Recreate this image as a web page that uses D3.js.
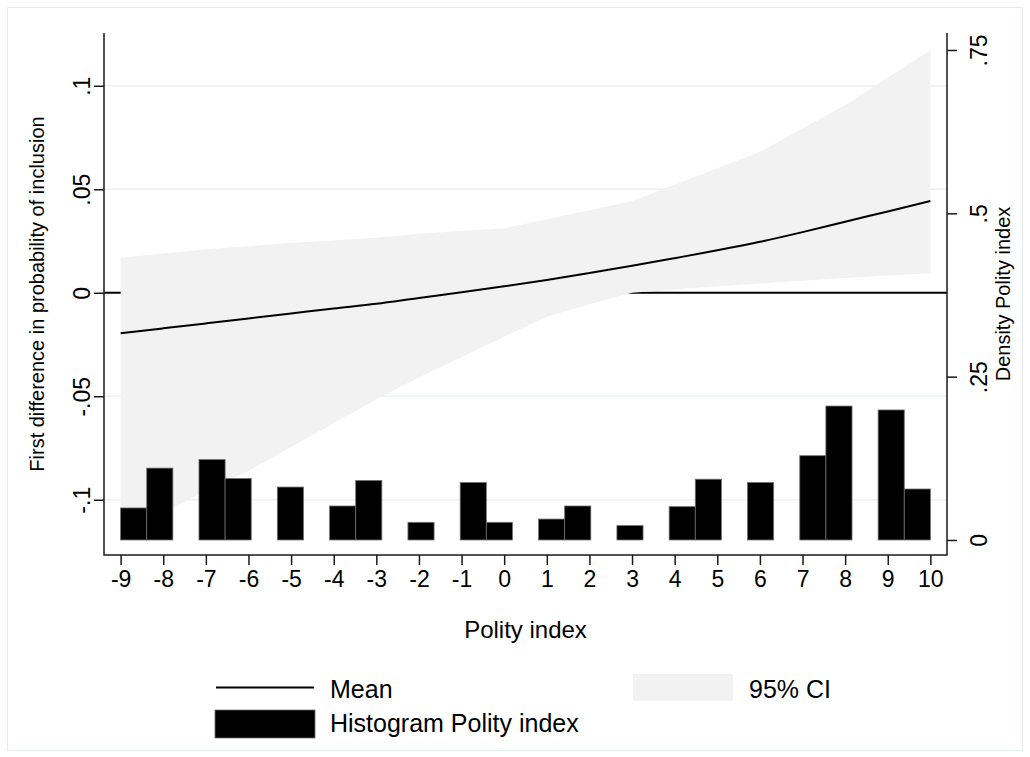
<!DOCTYPE html>
<html>
<head>
<meta charset="utf-8">
<script src="https://cdn.jsdelivr.net/npm/d3@7"></script>
<style>
  body { margin: 0; background: #fff; }
  svg { display: block; font-family: "Liberation Sans", Arial, sans-serif; }
</style>
</head>
<body>
<div id="chart"></div>
<script>

// Polity index values where the margins were evaluated
var polity = [-9, -8, -7, -6, -5, -4, -3, -2, -1, 0, 1, 2, 3, 4, 5, 6, 7, 8, 9, 10];

// first difference in probability of inclusion
var meanVals = [-0.0196, -0.0172, -0.0148, -0.0124, -0.0100, -0.0076, -0.0053, -0.0025, 0.0002, 0.0031,
                0.0062, 0.0095, 0.0130, 0.0167, 0.0205, 0.0246, 0.0293, 0.0343, 0.0393, 0.0443];
var ciLower  = [-0.1170, -0.1065, -0.0955, -0.0861, -0.0745, -0.0631, -0.0515, -0.0410, -0.0310, -0.0213,
                -0.0116, -0.0056, 0.0000, 0.0016, 0.0031, 0.0045, 0.0058, 0.0071, 0.0083, 0.0094];
var ciUpper  = [0.0169, 0.0190, 0.0210, 0.0225, 0.0240, 0.0252, 0.0266, 0.0285, 0.0298, 0.0311,
                0.0355, 0.0399, 0.0443, 0.0522, 0.0601, 0.0681, 0.0794, 0.0907, 0.1040, 0.1172];

// histogram of polity index (density), 31 bins from -9 to 10
var histDensity = [0.049, 0.110, 0.123, 0.094, 0.081, 0.052, 0.091, 0.027, 0.088, 0.027,
                   0.032, 0.052, 0.022, 0.051, 0.093, 0.088, 0.129, 0.205, 0.199, 0.078];
var nBins = 31;

var xTicks = [-9, -8, -7, -6, -5, -4, -3, -2, -1, 0, 1, 2, 3, 4, 5, 6, 7, 8, 9, 10];
var yLeftTicks = [-0.1, -0.05, 0, 0.05, 0.1];
var yLeftLabels = ["-.1", "-.05", "0", ".05", ".1"];
var yRightTicks = [0, 0.25, 0.5, 0.75];
var yRightLabels = ["0", ".25", ".5", ".75"];


var width = 1030, height = 757;
var plot = {left: 104, right: 947, top: 33, bottom: 555};

var svg = d3.select("#chart").append("svg")
    .attr("width", width)
    .attr("height", height);

// outer graph region border
svg.append("rect")
    .attr("x", 7.5).attr("y", 7.5)
    .attr("width", 1015).attr("height", 743)
    .attr("fill", "#fff")
    .attr("stroke", "#e6eef0")
    .attr("stroke-width", 1);

var x = d3.scaleLinear()
    .domain([-9.39, 10.39])
    .range([plot.left, plot.right]);

var yL = d3.scaleLinear()
    .domain([-0.1267, 0.1255])
    .range([plot.bottom, plot.top]);

var yR = d3.scaleLinear()
    .domain([-0.023, 0.776])
    .range([plot.bottom, plot.top]);

// gridlines (left axis ticks, except 0)
svg.append("g").selectAll("line")
    .data(yLeftTicks.filter(function(d) { return d !== 0; }))
    .enter().append("line")
    .attr("x1", plot.left).attr("x2", plot.right)
    .attr("y1", d => yL(d)).attr("y2", d => yL(d))
    .attr("stroke", "#eaf2f3")
    .attr("stroke-width", 1.5);

// reference line at 0
svg.append("line")
    .attr("x1", plot.left).attr("x2", plot.right)
    .attr("y1", yL(0)).attr("y2", yL(0))
    .attr("stroke", "#000")
    .attr("stroke-width", 2);

var ciData = polity.map(function(p, i) { return {p: p, lo: ciLower[i], hi: ciUpper[i], m: meanVals[i]}; });

// 95% CI band
var area = d3.area()
    .x(d => x(d.p))
    .y0(d => yL(d.lo))
    .y1(d => yL(d.hi));

svg.append("path")
    .datum(ciData)
    .attr("d", area)
    .attr("fill", "#f2f2f2");

// mean line
var line = d3.line()
    .x(d => x(d.p))
    .y(d => yL(d.m))
    .curve(d3.curveMonotoneX);

svg.append("path")
    .datum(ciData)
    .attr("d", line)
    .attr("fill", "none")
    .attr("stroke", "#000")
    .attr("stroke-width", 2);

// histogram bars
var binW = (polity[polity.length - 1] - polity[0]) / nBins;
var bars = polity.map(function(p, i) {
    var b = Math.min(Math.floor((p - polity[0]) / binW + 1e-9), nBins - 1);
    return {x0: polity[0] + b * binW, x1: polity[0] + (b + 1) * binW, d: histDensity[i]};
});

svg.append("g").selectAll("rect")
    .data(bars)
    .enter().append("rect")
    .attr("x", d => x(d.x0))
    .attr("width", d => x(d.x1) - x(d.x0))
    .attr("y", d => yR(d.d))
    .attr("height", d => yR(0) - yR(d.d))
    .attr("fill", "#000")
    .attr("stroke", "#6e6e6e")
    .attr("stroke-width", 0.8);

// axes (plain hyphen for negatives, like the original)
var xAxis = d3.axisBottom(x).tickValues(xTicks).tickSize(10).tickPadding(6)
    .tickFormat(function(d) { return String(d); });
var gx = svg.append("g")
    .attr("transform", "translate(0," + plot.bottom + ")")
    .call(xAxis);

var yLeftAxis = d3.axisLeft(yL).tickValues(yLeftTicks).tickSize(10)
    .tickFormat(function(d, i) { return yLeftLabels[i]; });
var gyl = svg.append("g")
    .attr("transform", "translate(" + plot.left + ",0)")
    .call(yLeftAxis);

var yRightAxis = d3.axisRight(yR).tickValues(yRightTicks).tickSize(10)
    .tickFormat(function(d, i) { return yRightLabels[i]; });
var gyr = svg.append("g")
    .attr("transform", "translate(" + plot.right + ",0)")
    .call(yRightAxis);

[gx, gyl, gyr].forEach(function(g) {
    g.select(".domain").remove();
    g.selectAll("line").attr("stroke", "#1a1a1a").attr("stroke-width", 1.5);
    g.selectAll("text").attr("fill", "#000").style("font-size", "23px").style("font-family", "Liberation Sans, Arial, sans-serif");
});

// rotated tick labels on the y axes
gyl.selectAll("text")
    .attr("x", null).attr("dy", null)
    .attr("text-anchor", "middle")
    .attr("transform", "translate(-14,0) rotate(-90)");
gyr.selectAll("text")
    .attr("x", null).attr("dy", null)
    .attr("text-anchor", "middle")
    .attr("transform", "translate(40,0) rotate(-90)");

// axis lines
svg.append("path")
    .attr("d", "M" + plot.left + "," + plot.top + "V" + plot.bottom + "H" + plot.right + "V" + plot.top)
    .attr("fill", "none")
    .attr("stroke", "#1a1a1a")
    .attr("stroke-width", 1.5);

// axis titles
svg.append("text")
    .attr("x", (plot.left + plot.right) / 2)
    .attr("y", 638)
    .attr("text-anchor", "middle")
    .style("font-size", "24px")
    .text("Polity index");

svg.append("text")
    .attr("transform", "translate(44," + (plot.top + plot.bottom) / 2 + ") rotate(-90)")
    .attr("text-anchor", "middle")
    .style("font-size", "20px")
    .text("First difference in probability of inclusion");

svg.append("text")
    .attr("transform", "translate(1010," + (plot.top + plot.bottom) / 2 + ") rotate(-90)")
    .attr("text-anchor", "middle")
    .style("font-size", "20px")
    .text("Density Polity index");

// legend
var legend = svg.append("g");

legend.append("line")
    .attr("x1", 216).attr("x2", 314)
    .attr("y1", 687.5).attr("y2", 687.5)
    .attr("stroke", "#000").attr("stroke-width", 2);
legend.append("text")
    .attr("x", 330).attr("y", 698)
    .style("font-size", "25px")
    .text("Mean");

legend.append("rect")
    .attr("x", 633).attr("y", 674)
    .attr("width", 100).attr("height", 27)
    .attr("fill", "#f2f2f2");
legend.append("text")
    .attr("x", 749).attr("y", 698)
    .style("font-size", "25px")
    .text("95% CI");

legend.append("rect")
    .attr("x", 215).attr("y", 710)
    .attr("width", 100).attr("height", 28)
    .attr("fill", "#000")
    .attr("stroke", "#6e6e6e").attr("stroke-width", 0.8);
legend.append("text")
    .attr("x", 330).attr("y", 732)
    .style("font-size", "25px")
    .text("Histogram Polity index");

</script>
</body>
</html>
